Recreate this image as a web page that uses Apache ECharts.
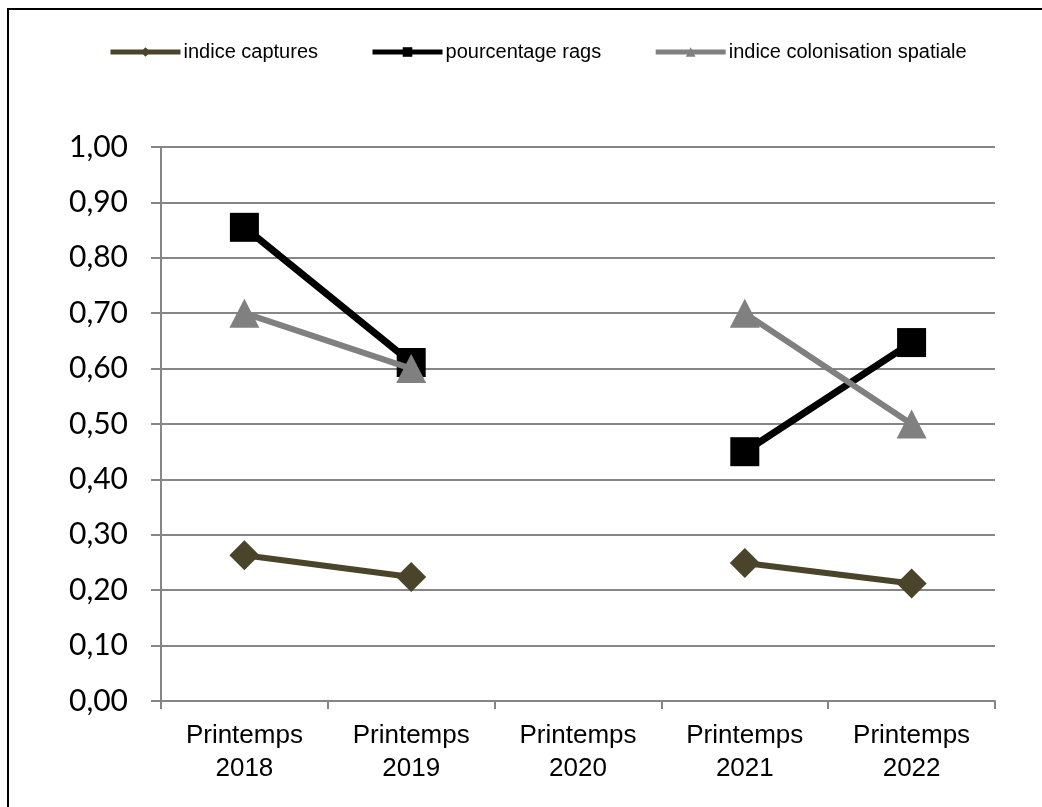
<!DOCTYPE html>
<html>
<head>
<meta charset="utf-8">
<script src="https://cdn.jsdelivr.net/npm/echarts@6/dist/echarts.min.js"></script>
<style>
html,body{margin:0;padding:0;background:#fff;}
#frame{position:absolute;left:7px;top:8px;width:1200px;height:1000px;border:2.5px solid #000;box-sizing:border-box;}
#chart{position:absolute;left:0;top:0;width:1042px;height:807px;}
</style>
</head>
<body>
<div id="frame"></div>
<div id="chart"></div>
<script>
const categories = ['Printemps\n2018', 'Printemps\n2019', 'Printemps\n2020', 'Printemps\n2021', 'Printemps\n2022'];
const indiceCaptures = [0.263, 0.224, null, 0.249, 0.212];
const pourcentageRags = [0.855, 0.611, null, 0.45, 0.647];
const indiceColonisation = [0.70, 0.60, null, 0.70, 0.50];
const yTicks = { min: 0, max: 1, interval: 0.1 };

const chart = echarts.init(document.getElementById('chart'), null, { renderer: 'canvas' });
chart.setOption({
  animation: false,
  backgroundColor: 'transparent',
  legend: {
    top: 42,
    left: 108,
    padding: 0,
    itemWidth: 70,
    itemHeight: 12,
    itemGap: 52,
    lineStyle: { width: 5 },
    textStyle: { fontFamily: 'Liberation Sans, Arial, sans-serif', fontSize: 20, color: '#000', padding: [0, 0, 0, -2] },
    data: ['indice captures', 'pourcentage rags', 'indice colonisation spatiale']
  },
  grid: { left: 161, right: 47, top: 147, bottom: 106, containLabel: false },
  xAxis: {
    type: 'category',
    data: categories,
    boundaryGap: true,
    axisLine: { lineStyle: { color: '#868686', width: 2 } },
    axisTick: { show: true, length: 8, lineStyle: { color: '#868686', width: 2 } },
    axisLabel: { fontFamily: 'Liberation Sans, Arial, sans-serif', fontSize: 26, color: '#000', margin: 18, lineHeight: 33, interval: 0 },
    splitLine: { show: false }
  },
  yAxis: {
    type: 'value',
    min: yTicks.min, max: yTicks.max, interval: yTicks.interval,
    axisLine: { show: true, lineStyle: { color: '#868686', width: 2 } },
    axisTick: { show: true, length: 10, lineStyle: { color: '#868686', width: 2 } },
    axisLabel: {
      fontFamily: 'Lato, Liberation Sans, sans-serif', fontSize: 30, color: '#000', margin: 33,
      formatter: v => v.toFixed(2).replace('.', ',')
    },
    splitLine: { show: true, lineStyle: { color: '#868686', width: 2 } }
  },
  series: [
    {
      name: 'indice captures', type: 'line', data: indiceCaptures,
      connectNulls: false, symbol: 'diamond', symbolSize: 30,
      lineStyle: { color: '#4a442a', width: 6 }, itemStyle: { color: '#4a442a' }, z: 2
    },
    {
      name: 'pourcentage rags', type: 'line', data: pourcentageRags,
      connectNulls: false, symbol: 'rect', symbolSize: 29,
      lineStyle: { color: '#000', width: 7 }, itemStyle: { color: '#000' }, z: 3
    },
    {
      name: 'indice colonisation spatiale', type: 'line', data: indiceColonisation,
      connectNulls: false, symbol: 'triangle', symbolSize: [30, 29],
      lineStyle: { color: '#808080', width: 6 }, itemStyle: { color: '#808080' }, z: 4
    }
  ]
});
</script>
</body>
</html>
